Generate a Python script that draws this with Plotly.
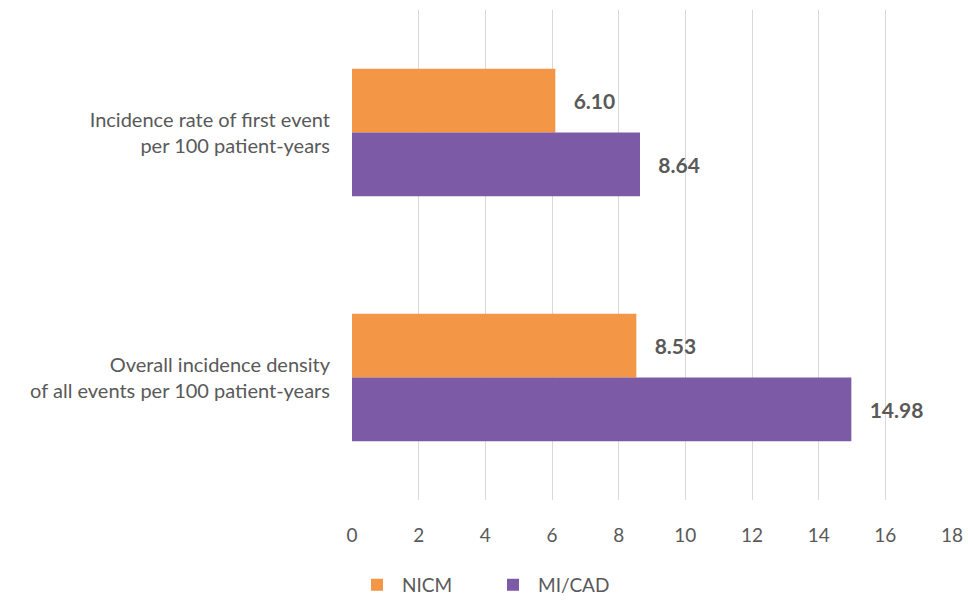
import plotly.graph_objects as go

# Outcome measures (category axis) and rates per 100 patient-years
categories = [
    "Incidence rate of first event<br>per 100 patient-years",
    "Overall incidence density<br>of all events per 100 patient-years",
]
nicm_values = [6.10, 8.53]
micad_values = [8.64, 14.98]
x_ticks = [0, 2, 4, 6, 8, 10, 12, 14, 16, 18]

TEXT = "#595959"
FONT = "Lato"

fig = go.Figure()
fig.add_trace(go.Bar(
    name="NICM", y=categories, x=nicm_values, orientation="h",
    marker=dict(color="#F39645", line=dict(width=0)),
    text=[f"   {v:.2f}" for v in nicm_values], textposition="outside",
    textfont=dict(family=FONT, size=21, color=TEXT, weight="bold"),
    cliponaxis=False,
))
fig.add_trace(go.Bar(
    name="MI/CAD", y=categories, x=micad_values, orientation="h",
    marker=dict(color="#7C5AA5", line=dict(width=0)),
    text=[f"   {v:.2f}" for v in micad_values], textposition="outside",
    textfont=dict(family=FONT, size=21, color=TEXT, weight="bold"),
    cliponaxis=False,
))

fig.update_layout(
    width=968, height=603,
    margin=dict(l=352, r=16, t=10, b=103, autoexpand=False),
    paper_bgcolor="white", plot_bgcolor="white",
    barmode="group", bargap=0.48, bargroupgap=0,
    font=dict(family=FONT, size=18, color=TEXT),
    showlegend=True,
    legend=dict(
        orientation="h", x=0.0, xanchor="left",
        yref="container", y=0.03, yanchor="middle",
        font=dict(family=FONT, size=19, color=TEXT),
        entrywidth=81, entrywidthmode="pixels",
        itemwidth=40, tracegroupgap=0,
    ),
)
fig.update_xaxes(
    range=[0, 18], tickvals=x_ticks, ticktext=[str(t) for t in x_ticks],
    showgrid=True, gridcolor="#D9D9D9", gridwidth=1,
    zeroline=False, showline=False,
    ticks="outside", ticklen=18, tickcolor="rgba(0,0,0,0)",
    tickfont=dict(family=FONT, size=19, color=TEXT),
)
fig.update_yaxes(
    autorange="reversed", showgrid=False, zeroline=False, showline=False,
    ticks="outside", ticklen=17, tickcolor="rgba(0,0,0,0)",
    tickfont=dict(family=FONT, size=20, color=TEXT),
)

fig.write_html("out.html")
